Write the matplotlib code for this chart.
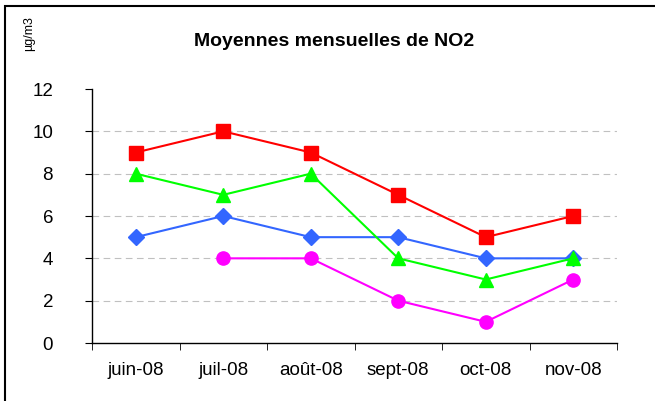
import matplotlib.pyplot as plt
import numpy as np
from matplotlib.patches import Rectangle

months = ['juin-08', 'juil-08', 'août-08', 'sept-08', 'oct-08', 'nov-08']
red_vals = [9, 10, 9, 7, 5, 6]
green_vals = [8, 7, 8, 4, 3, 4]
blue_vals = [5, 6, 5, 5, 4, 4]
magenta_vals = [np.nan, 4, 4, 2, 1, 3]
y_ticks = [0, 2, 4, 6, 8, 10, 12]

plt.rcParams['font.family'] = ['Liberation Sans', 'DejaVu Sans']

fig = plt.figure(figsize=(6.55, 4.01), dpi=100)
ax = fig.add_axes([92 / 655, 1 - 343 / 401, (617 - 92) / 655, (343 - 89) / 401])

x = np.arange(len(months))
for y in y_ticks[1:-1]:
    ax.axhline(y, color='#c0c0c0', lw=0.8, ls=(0, (6, 4)), zorder=0)

ax.plot(x, blue_vals, color='#3366ff', lw=1.5, marker='D', ms=8, zorder=3)
ax.plot(x, magenta_vals, color='#ff00ff', lw=1.5, marker='o', ms=9.5, zorder=3)
ax.plot(x, green_vals, color='#00ff00', lw=1.5, marker='^', ms=10, zorder=3)
ax.plot(x, red_vals, color='#ff0000', lw=1.5, marker='s', ms=9.5, zorder=3)

ax.set_xlim(-0.5, len(months) - 0.5)
ax.set_ylim(0, 12)
ax.set_yticks(y_ticks)
ax.set_xticks(x)
ax.set_xticklabels(months)
ax.set_xticks(np.arange(-0.5, len(months)), minor=True)
ax.tick_params(axis='x', which='major', length=0, pad=14, labelsize=13.5)
ax.tick_params(axis='x', which='minor', length=5, direction='out', color='black')
ax.tick_params(axis='y', length=5, direction='out', labelsize=13.5, pad=23)

for side in ['top', 'right']:
    ax.spines[side].set_visible(False)
ax.spines['left'].set_linewidth(1)
ax.spines['bottom'].set_linewidth(1)

fig.text(334 / 655, 1 - 42 / 401, 'Moyennes mensuelles de NO2', ha='center', va='center',
         fontsize=14, fontweight='bold')
fig.text(29 / 655, 1 - 34 / 401, 'µg/m3', ha='center', va='center', rotation=90, fontsize=9)

fig.patches.append(Rectangle((5 / 655, -0.1), 1.2, 1 - 6 / 401 + 0.1, transform=fig.transFigure,
                             fill=False, edgecolor='black', lw=1.5))

fig.savefig('out.png', dpi=100)
